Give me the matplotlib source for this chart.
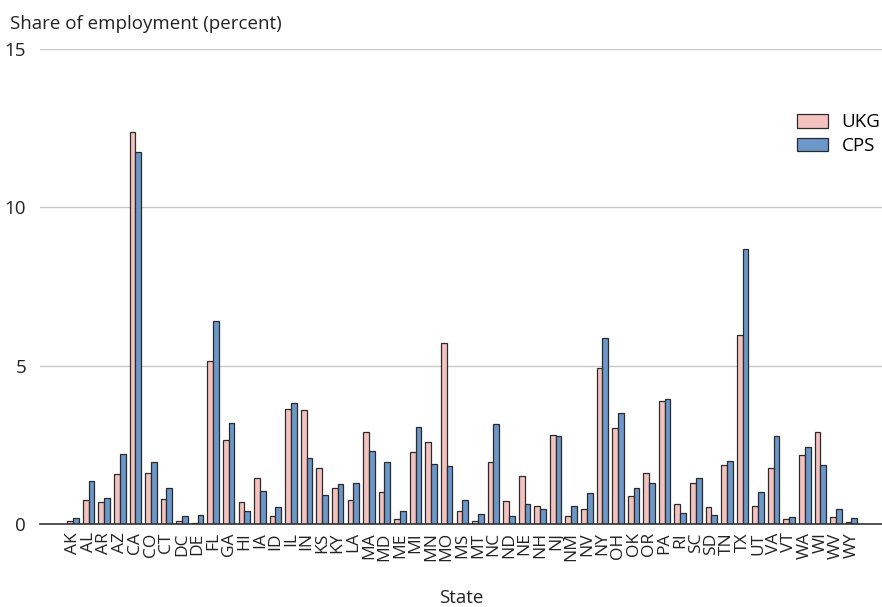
import matplotlib
matplotlib.use("Agg")
import matplotlib.pyplot as plt
import numpy as np

plt.rcParams['font.family'] = ['Open Sans', 'DejaVu Sans']

states = ["AK", "AL", "AR", "AZ", "CA", "CO", "CT", "DC", "DE", "FL", "GA", "HI",
          "IA", "ID", "IL", "IN", "KS", "KY", "LA", "MA", "MD", "ME", "MI", "MN",
          "MO", "MS", "MT", "NC", "ND", "NE", "NH", "NJ", "NM", "NV", "NY", "OH",
          "OK", "OR", "PA", "RI", "SC", "SD", "TN", "TX", "UT", "VA", "VT", "WA",
          "WI", "WV", "WY"]

ukg = [0.09, 0.77, 0.69, 1.58, 12.39, 1.60, 0.78, 0.09, 0.04, 5.16, 2.66, 0.70,
       1.45, 0.25, 3.64, 3.61, 1.78, 1.15, 0.77, 2.92, 1.01, 0.16, 2.29, 2.60,
       5.71, 0.42, 0.10, 1.97, 0.74, 1.51, 0.58, 2.82, 0.25, 0.47, 4.94, 3.04,
       0.90, 1.60, 3.89, 0.64, 1.30, 0.55, 1.87, 5.98, 0.57, 1.77, 0.17, 2.18,
       2.91, 0.21, 0.07]

cps = [0.20, 1.36, 0.82, 2.20, 11.76, 1.96, 1.15, 0.25, 0.28, 6.41, 3.18, 0.41,
       1.04, 0.55, 3.83, 2.08, 0.93, 1.27, 1.30, 2.32, 1.97, 0.42, 3.05, 1.89,
       1.84, 0.75, 0.33, 3.16, 0.24, 0.64, 0.48, 2.79, 0.56, 0.97, 5.88, 3.52,
       1.15, 1.29, 3.96, 0.34, 1.46, 0.28, 2.00, 8.68, 1.00, 2.77, 0.21, 2.42,
       1.85, 0.49, 0.18]

yticks = [0, 5, 10, 15]

fig = plt.figure(figsize=(8.82, 6.07), dpi=100)
ax = fig.add_axes([0.0454, 0.1367, 0.9546, 0.7826])

x = np.arange(len(states))
w = 0.37
ax.bar(x - w / 2, ukg, width=w, color="#f4c3c0", edgecolor="#2b2b2b",
       linewidth=0.9, label="UKG", zorder=3)
ax.bar(x + w / 2, cps, width=w, color="#6b97c9", edgecolor="#2b2b2b",
       linewidth=0.9, label="CPS", zorder=3)

ax.set_xlim(-2.12, len(states) + 0.96)
ax.set_ylim(0, 15)
ax.set_yticks(yticks)
ax.set_yticklabels([str(t) for t in yticks], fontsize=13.5, color="#222222")
ax.set_xticks(x)
ax.set_xticklabels(states, rotation=90, fontsize=12.5, color="#222222")
ax.tick_params(axis="both", length=0)
ax.tick_params(axis="y", pad=10)
ax.tick_params(axis="x", pad=6)

ax.grid(axis="y", color="#c8c8c8", linewidth=1.0, zorder=0)
for side in ["top", "right", "left"]:
    ax.spines[side].set_visible(False)
ax.spines["bottom"].set_color("#333333")
ax.spines["bottom"].set_linewidth(1.2)
ax.spines["bottom"].set_zorder(4)

ax.set_xlabel("State", fontsize=13.5, color="#222222", labelpad=20)
fig.text(0.0113, 0.975, "Share of employment (percent)", fontsize=13.5,
         color="#222222", ha="left", va="top")

ax.legend(loc="upper right", bbox_to_anchor=(1.018, 0.9), frameon=False,
          fontsize=13.5, handlelength=1.65, handleheight=0.75,
          handletextpad=0.7, labelspacing=0.3)

fig.savefig("out.png", dpi=100, facecolor="white")
